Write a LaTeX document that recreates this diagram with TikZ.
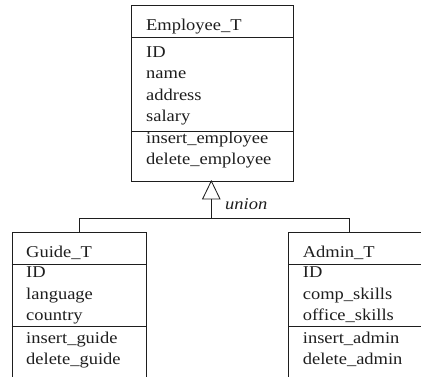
\documentclass[tikz,border=0pt]{standalone}
\usepackage{fontspec}
\setmainfont{Liberation Serif}[FakeStretch=1.12]
\usetikzlibrary{calc}
\definecolor{ink}{HTML}{1E1E1E}
\tikzset{
  classbox/.style={draw=ink, line width=0.85pt, rectangle, inner sep=0pt, anchor=north west},
  sep/.style={draw=ink, line width=0.85pt},
  conn/.style={draw=ink, line width=0.85pt},
  txt/.style={anchor=base west, inner sep=0pt, text=ink, font=\fontsize{16.5}{21.5}\selectfont},
  lbl/.style={anchor=base west, inner sep=0pt, text=ink, font=\fontsize{16.5}{21.5}\selectfont\itshape},
}
\begin{document}
\begin{tikzpicture}[x=1pt,y=-1pt]
\useasboundingbox (0,0) rectangle (421,377);
\clip (0,0) rectangle (421,377);
% Employee_T
\node[classbox, minimum width=162pt, minimum height=176pt] (emp) at (131,5) {};
\draw[sep] (131,37.5) -- (293,37.5);
\draw[sep] (131,131) -- (293,131);
\node[txt] (e0) at (146,30.7) {Employee\_T};
\node[txt] (e1) at (146,57.5) {ID};
\node[txt] (e2) at (146,79) {name};
\node[txt] (e3) at (146,100.5) {address};
\node[txt] (e4) at (146,122) {salary};
\node[txt] (e5) at (146,143.5) {insert\_employee};
\node[txt] (e6) at (146,165) {delete\_employee};
% Guide_T
\node[classbox, minimum width=134.3pt, minimum height=170pt] (guide) at (11.7,232.5) {};
\draw[sep] (11.7,264) -- (146,264);
\draw[sep] (11.7,326) -- (146,326);
\node[txt] (g0) at (26,257.3) {Guide\_T};
\node[txt] (g1) at (26,278) {ID};
\node[txt] (g2) at (26,299.3) {language};
\node[txt] (g3) at (26,320.6) {country};
\node[txt] (g4) at (26,343.3) {insert\_guide};
\node[txt] (g5) at (26,364.5) {delete\_guide};
% Admin_T
\node[classbox, minimum width=160pt, minimum height=170pt] (admin) at (288,232.5) {};
\draw[sep] (288,264) -- (448,264);
\draw[sep] (288,326) -- (448,326);
\node[txt] (a0) at (302.7,257.3) {Admin\_T};
\node[txt] (a1) at (302.7,278) {ID};
\node[txt] (a2) at (302.7,299.3) {comp\_skills};
\node[txt] (a3) at (302.7,320.6) {office\_skills};
\node[txt] (a4) at (302.7,343.3) {insert\_admin};
\node[txt] (a5) at (302.7,364.5) {delete\_admin};
% union generalisation
\coordinate (apex) at (211.3,181);
\coordinate (tbase) at (211.3,199);
\coordinate (j) at (211.3,218.5);
\coordinate (ajoin) at ($(admin.north west)+(61pt,0)$);
\draw[conn, line join=miter] (apex) -- ($(tbase)+(-8.7pt,0)$) -- ($(tbase)+(8.7pt,0)$) -- cycle;
\draw[conn] (tbase) -- (j);
\draw[conn] (guide.north) |- (j);
\draw[conn] (j) -| (ajoin);
\node[lbl] (u) at (225,209.5) {union};
\end{tikzpicture}
\end{document}
